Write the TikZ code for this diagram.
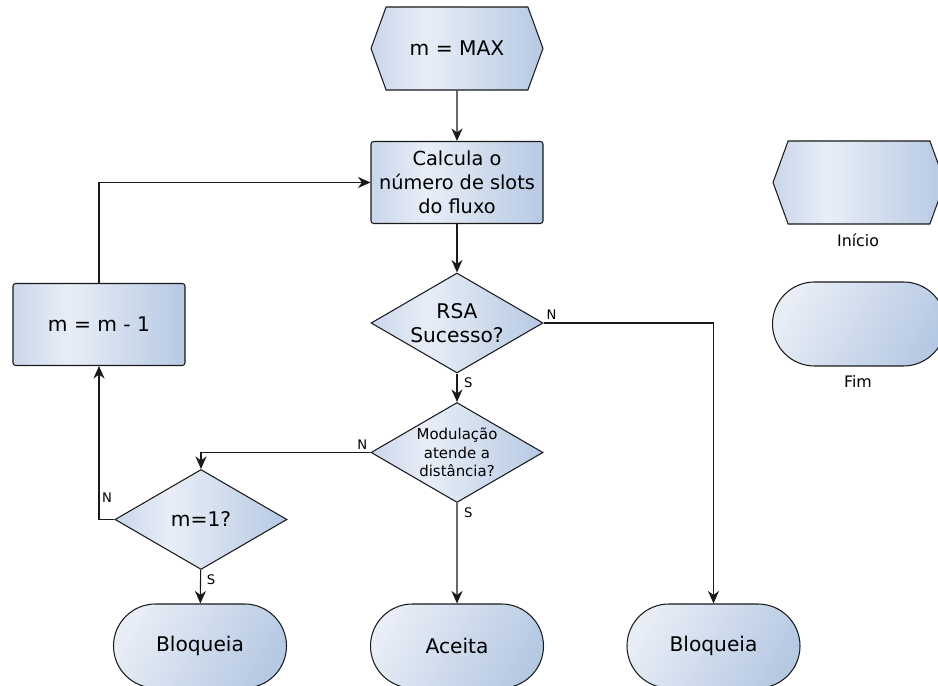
\documentclass[tikz,border=0pt]{standalone}
\usepackage{fontspec}
\setmainfont{DejaVu Sans}
\usepackage{xcolor}
\usepackage{tikz}
\usetikzlibrary{shapes.geometric,shapes.misc,shapes.symbols,arrows.meta}
\definecolor{fillL}{HTML}{C9D6EB}
\definecolor{fillM}{HTML}{E8EEF7}
\definecolor{fillR}{HTML}{B6C9E3}
\definecolor{termL}{HTML}{E8EDF6}
\definecolor{edge}{HTML}{1A1A1A}
\pgfdeclarehorizontalshading{flowfill}{100bp}{color(0bp)=(fillL); color(25bp)=(fillL); color(41bp)=(fillM); color(75bp)=(fillR); color(100bp)=(fillR)}
\pgfdeclarehorizontalshading{termfill}{100bp}{color(0bp)=(termL); color(25bp)=(termL); color(75bp)=(fillR); color(100bp)=(fillR)}
\tikzset{
  shape base/.style={draw=edge, line width=0.6pt, inner sep=0pt, text centered, align=center},
  startbox/.style={shape base, signal, signal to=west and east, signal pointer angle=140, minimum width=3.44cm, minimum height=1.66cm, shading=flowfill, font=\fontsize{11.5}{14}\selectfont},
  procbox/.style={shape base, rectangle, rounded corners=1.5pt, minimum width=3.44cm, minimum height=1.64cm, shading=flowfill},
  testbox/.style={shape base, diamond, aspect=1.72, minimum width=3.44cm, minimum height=2.0cm, shading=flowfill},
  endbox/.style={shape base, rounded rectangle, minimum width=3.46cm, minimum height=1.68cm, shading=termfill, shading angle=-30, font=\fontsize{11.5}{14}\selectfont},
  arr/.style={draw=edge, line width=0.6pt, -{Stealth[length=2.5mm, width=2.2mm, inset=0.8mm]}},
  lbl/.style={font=\fontsize{7.5}{9}\selectfont, inner sep=1.5pt},
  legendlbl/.style={font=\fontsize{9}{11}\selectfont}
}
\begin{document}
\begin{tikzpicture}
\useasboundingbox (0,0) rectangle (18.76,13.72);
\begin{scope}
\clip (0,0) rectangle (18.76,13.72);
% main flow
\node[startbox] (start) at (9.14,12.75) {m = MAX};
\node[procbox, font=\fontsize{11}{13.5}\selectfont] (calc) at (9.14,10.07) {Calcula o\\número de slots\\do fluxo};
\node[testbox, font=\fontsize{11.5}{14}\selectfont] (rsa) at (9.14,7.26) {RSA\\Sucesso?};
\node[testbox, font=\fontsize{8.5}{10.5}\selectfont] (mod) at (9.14,4.67) {Modulação\\atende a\\distância?};
\node[testbox, font=\fontsize{11.5}{14}\selectfont] (last) at (4.02,3.33) {m=1?};
\node[procbox, font=\fontsize{11.5}{14}\selectfont] (dec) at (1.98,7.23) {m = m - 1};
% terminals
\node[endbox] (block1) at (4.00,0.80) {Bloqueia};
\node[endbox] (accept) at (9.14,0.80) {Aceita};
\node[endbox] (block2) at (14.27,0.80) {Bloqueia};
% legend
\node[startbox] (keystart) at (17.18,10.07) {};
\node[legendlbl] (keystartlbl) at (17.16,8.92) {Início};
\node[endbox] (keyend) at (17.18,7.24) {};
\node[legendlbl] (keyendlbl) at (17.16,6.08) {Fim};
% connectors
\draw[arr] (start) -- (calc);
\draw[arr] (calc) -- (rsa);
\draw[arr] (rsa) -- node[lbl, pos=0.05, anchor=north west, xshift=0.08cm] {S} (mod);
\draw[arr] (rsa.east) -| node[lbl, pos=0, anchor=south west] {N} (block2.north);
\draw[arr] (mod) -- node[lbl, pos=0.02, anchor=north west, xshift=0.08cm] {S} (accept);
\draw[arr] (mod.west) -| node[lbl, pos=0, anchor=south east] {N} (last.north);
\draw[arr] (last) -- node[lbl, pos=0.05, anchor=north west, xshift=0.06cm] {S} (block1);
\draw[arr] (last.west) -| node[lbl, pos=0.57, anchor=west] {N} (dec.south);
\draw[arr] (dec.north) |- (calc.west);
\end{scope}
\end{tikzpicture}
\end{document}
